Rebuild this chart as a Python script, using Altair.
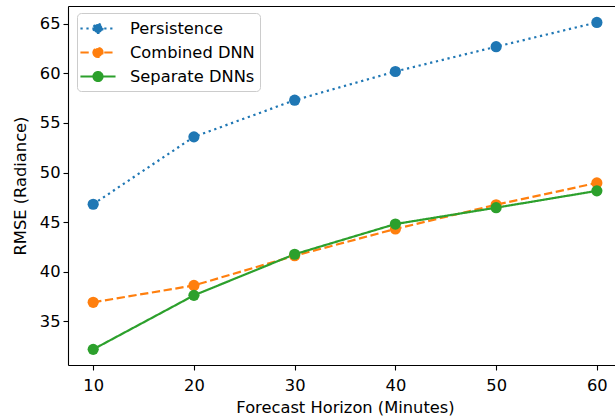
import altair as alt
import pandas as pd

horizons = [10, 20, 30, 40, 50, 60]
persistence = [46.8, 53.6, 57.3, 60.2, 62.7, 65.15]
combined_dnn = [36.9, 38.6, 41.6, 44.3, 46.75, 48.95]
separate_dnns = [32.15, 37.6, 41.75, 44.8, 46.45, 48.15]

series_names = ["Persistence", "Combined DNN", "Separate DNNs"]
series_colors = ["#1f77b4", "#ff7f0e", "#2ca02c"]
series_dashes = [[2.25, 3.7], [8.3, 3.6], [1, 0]]

x_ticks = [10, 20, 30, 40, 50, 60]
y_ticks = [35, 40, 45, 50, 55, 60, 65]

rows = []
for name, vals in zip(series_names, [persistence, combined_dnn, separate_dnns]):
    for h, v in zip(horizons, vals):
        rows.append({"h": h, "rmse": v, "series": name})
df = pd.DataFrame(rows)

FONT = "DejaVu Sans"
FS = 16.3
xscale = alt.Scale(domain=[7.5, 61.8], nice=False, zero=False)
yscale = alt.Scale(domain=[30.57, 66.81], nice=False, zero=False)

color = alt.Color(
    "series:N",
    scale=alt.Scale(domain=series_names, range=series_colors),
    legend=alt.Legend(
        title=None,
        orient="none",
        legendX=9,
        legendY=7,
        symbolType="M-1.34,0L2.56,0M0.11,0A0.5,0.5,0,1,0,1.11,0A0.5,0.5,0,1,0,0.11,0Z",
        symbolSize=324,
        symbolStrokeWidth=2.2,
        labelFont=FONT,
        labelFontSize=FS,
        labelColor="#000000",
        labelOffset=27,
        padding=5,
        rowPadding=4.0,
        fillColor="rgba(255,255,255,0.8)",
        strokeColor="#cccccc",
        cornerRadius=4,
    ),
)
dash = alt.StrokeDash(
    "series:N",
    scale=alt.Scale(domain=series_names, range=series_dashes),
    legend=None,
)

bottom_axis = alt.Axis(
    values=x_ticks,
    title="Forecast Horizon (Minutes)",
    grid=False,
    domainColor="#000000",
    domainWidth=1.1,
    tickColor="#000000",
    tickWidth=1.1,
    tickSize=5,
    labelFont=FONT,
    labelFontSize=FS,
    labelColor="#000000",
    labelPadding=7,
    titleFont=FONT,
    titleFontSize=FS,
    titleFontWeight="normal",
    titleColor="#000000",
    titlePadding=6,
    titleX=277,
    titleAlign="center",
)
top_axis = alt.Axis(
    orient="top",
    values=x_ticks,
    title=None,
    labels=False,
    ticks=False,
    grid=False,
    domainColor="#000000",
    domainWidth=1.1,
)
left_axis = alt.Axis(
    values=y_ticks,
    title="RMSE (Radiance)",
    grid=False,
    domainColor="#000000",
    domainWidth=1.1,
    tickColor="#000000",
    tickWidth=1.1,
    tickSize=5,
    labelFont=FONT,
    labelFontSize=FS,
    labelColor="#000000",
    labelPadding=3,
    titleFont=FONT,
    titleFontSize=FS,
    titleFontWeight="normal",
    titleColor="#000000",
    titlePadding=11,
)

base = alt.Chart(df)
lines = base.mark_line(strokeWidth=2.2, strokeCap="butt").encode(
    x=alt.X("h:Q", scale=xscale, axis=bottom_axis),
    y=alt.Y("rmse:Q", scale=yscale, axis=left_axis),
    color=color,
    strokeDash=dash,
    detail="series:N",
)
points = base.mark_point(filled=True, size=125, opacity=1).encode(
    x=alt.X("h:Q", scale=xscale, axis=top_axis),
    y=alt.Y("rmse:Q", scale=yscale),
    color=color,
)

chart = (
    alt.layer(lines, points)
    .resolve_axis(x="independent")
    .properties(
        width=547,
        height=359,
        padding={"left": 68, "top": 6, "right": 0, "bottom": 54},
        autosize=alt.AutoSizeParams(type="none"),
    )
    .configure_view(stroke=None)
    .configure(background="white")
)

chart.save("out.html", embed_options={"renderer": "svg", "actions": False})
